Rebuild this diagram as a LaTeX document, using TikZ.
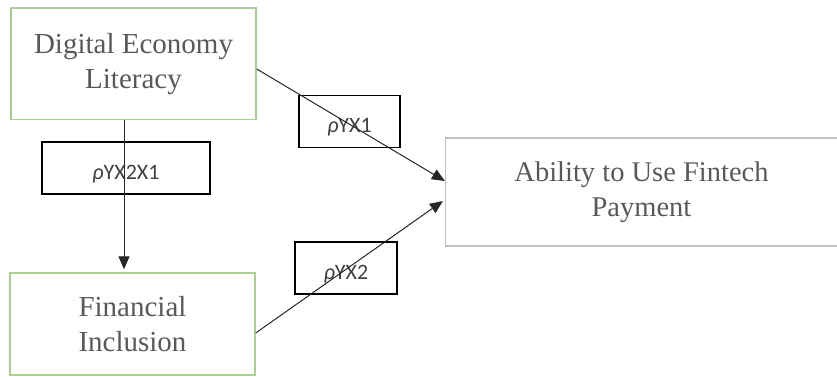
\documentclass[tikz,border=0pt]{standalone}
\usepackage{fontspec}
\setmainfont{Liberation Serif}
\newfontfamily\labelfont{Carlito}
\usetikzlibrary{arrows.meta}
\definecolor{boxgreen}{HTML}{A9D18E}
\definecolor{boxgrey}{HTML}{C0C0C0}
\definecolor{textgrey}{HTML}{595959}
\definecolor{labelgrey}{HTML}{404040}
% coefficient text, set a little below the middle of its frame
\newcommand{\coeftext}[1]{\raisebox{-6pt}[\height][\depth]{\textit{ρ}#1}}
\tikzset{
  varbox/.style={draw=boxgreen, line width=1.4pt, minimum width=245pt, minimum height=110pt,
    inner sep=0pt, align=center, text=textgrey, font=\fontsize{29}{35}\selectfont},
  outbox/.style={draw=boxgrey, line width=1.2pt, minimum width=392pt, minimum height=108pt,
    inner sep=0pt, align=center, text=textgrey, font=\fontsize{28.5}{35}\selectfont},
  coefbox/.style={draw=black, line width=1.3pt, inner sep=0pt, minimum height=52pt,
    text=labelgrey, font=\labelfont\fontsize{22}{24}\selectfont},
  path arrow/.style={draw=black!85, line width=1pt, -{Triangle[length=13pt,width=11pt]}}
}
\begin{document}
\begin{tikzpicture}[x=1pt,y=-1pt]
\useasboundingbox (0,0) rectangle (837,376);

% the three constructs
\node[varbox, minimum height=111pt] (del) at (133.5,64) {Digital Economy\\Literacy};
\draw[boxgrey, line width=1.2pt] (del.north west) -- (del.north east);
\node[varbox, minimum height=102pt] (fi) at (132.5,324) {Financial\\Inclusion};
\node[outbox] (afp) at (641.5,192) {Ability to Use Fintech\\Payment};

% path coefficient boxes
\node[coefbox, minimum width=168pt] (c21) at (126,168) {\coeftext{YX2X1}};
\node[coefbox, minimum width=101pt] (c1) at (349.5,121.5) {\coeftext{YX1}};
\node[coefbox, minimum width=102pt] (c2) at (346,268) {\coeftext{YX2}};

% anchor points of the paths
\coordinate (s1) at ([yshift=-5pt]del.east);
\coordinate (s2) at ([yshift=-9pt]fi.east);
\coordinate (s3) at (del.south -| 124,0);
\coordinate (t1) at ([yshift=11pt]afp.west);
\coordinate (t2) at ([xshift=-2pt,yshift=-9pt]afp.west);
\coordinate (t3) at ([yshift=3pt]fi.north -| 124,0);

% paths
\draw[path arrow] (s3) -- (t3);
\draw[path arrow] (s1) -- (t1);
\draw[path arrow] (s2) -- (t2);
\end{tikzpicture}
\end{document}
